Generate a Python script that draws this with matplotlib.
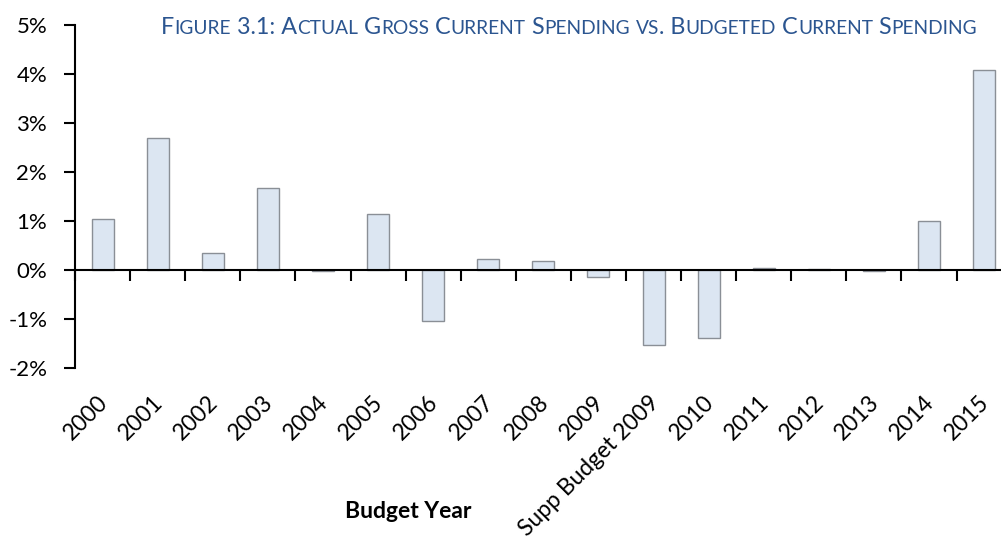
import matplotlib
matplotlib.use('Agg')
import matplotlib.pyplot as plt
import matplotlib.transforms as mtransforms
import numpy as np

plt.rcParams['font.family'] = ['Lato', 'DejaVu Sans']

# budget years and spending gap (% of budget)
years = ['2000', '2001', '2002', '2003', '2004', '2005', '2006', '2007', '2008',
         '2009', 'Supp Budget 2009', '2010', '2011', '2012', '2013', '2014', '2015']
gap = [1.05, 2.70, 0.35, 1.67, -0.02, 1.14, -1.04, 0.22, 0.18,
       -0.15, -1.54, -1.39, 0.05, 0.03, -0.02, 1.00, 4.08]
y_ticks = [-2, -1, 0, 1, 2, 3, 4, 5]
title = 'Figure 3.1: Actual Gross Current Spending vs. Budgeted Current Spending'

W, H = 1001, 538
fig = plt.figure(figsize=(W / 100, H / 100), dpi=100)
ax = fig.add_axes([75 / W, (H - 368) / H, 936.7 / W, 343 / H])

x = np.arange(len(years))
ax.bar(x, gap, width=0.4, color='#dce6f2', edgecolor='#8a8f96', linewidth=1.0, zorder=2)

ax.set_xlim(-0.5, len(years) - 0.5)
ax.set_ylim(-2, 5)
ax.set_yticks(y_ticks)
ax.set_yticklabels(['%d%%' % v for v in y_ticks], fontsize=16)
ax.tick_params(axis='y', direction='out', length=8, width=1.5, pad=12)

# tick marks between categories on the zero line
ax.set_xticks(np.arange(len(years) + 1) - 0.5)
ax.tick_params(axis='x', direction='out', length=8, width=1.5, labelbottom=False)

for s in ['top', 'right']:
    ax.spines[s].set_visible(False)
ax.spines['bottom'].set_position(('data', 0))
ax.spines['bottom'].set_linewidth(1.5)
ax.spines['left'].set_linewidth(1.5)

# category labels below the plot area
trans = mtransforms.blended_transform_factory(ax.transData, ax.transAxes)
for i, lab in enumerate(years):
    ax.text(i - 0.1, -0.07, lab, transform=trans, rotation=45, ha='right', va='top',
            rotation_mode='anchor', fontsize=16.5, clip_on=False)

fig.text(408 / W, 1 - 511 / H, 'Budget Year', fontsize=16.5, fontweight='bold',
         ha='center', va='center')

# small-caps title built from runs of big and small capitals
renderer = fig.canvas.get_renderer()
big, small = 16.8, 13.8
runs = []
for ch in title:
    size = small if ch.islower() else big
    if runs and runs[-1][1] == size:
        runs[-1][0] += ch.upper()
    else:
        runs.append([ch.upper(), size])
xpos = 161
for txt, size in runs:
    t = fig.text(xpos / W, 1 - 34 / H, txt, fontsize=size, color='#2b5590',
                 ha='left', va='baseline')
    xpos += t.get_window_extent(renderer).width

fig.savefig('out.png', dpi=100)
